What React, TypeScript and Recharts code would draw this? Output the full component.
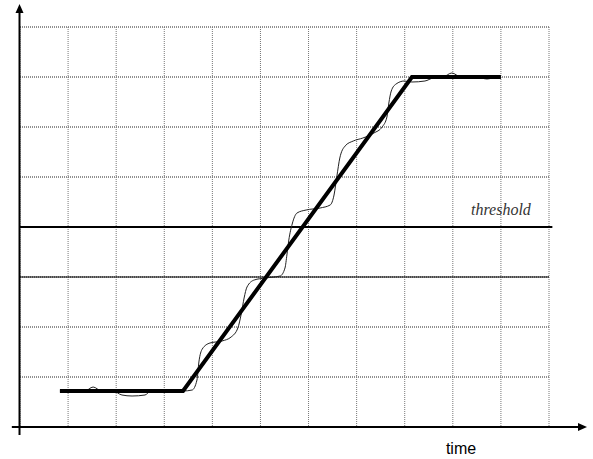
import React from "react"
import {
  LineChart,
  Line,
  XAxis,
  YAxis,
  CartesianGrid,
  ReferenceLine,
  ReferenceDot,
} from "recharts"

// grid divisions (time units / level units)
const X_TICKS = [0, 1, 2, 3, 4, 5, 6, 7, 8, 9, 10, 11]
const Y_TICKS = [0, 1, 2, 3, 4, 5, 6, 7, 8]

// ideal ramp (thick)
const RAMP_T = [0.83, 3.39, 8.15, 10.0]
const RAMP_V = [0.72, 0.72, 7.0, 7.0]

// ringing signal (thin)
const SIG_T = [
  0.83, 1.35, 1.52, 1.7, 1.93, 2.12, 2.33, 2.6, 2.72, 3.39,
  3.58, 3.68, 3.72, 3.79, 3.95, 4.2, 4.39, 4.53, 4.6, 4.66,
  4.72, 4.87, 5.1, 5.41, 5.51, 5.55, 5.59, 5.66, 5.76, 5.95,
  6.24, 6.45, 6.53, 6.59, 6.65, 6.76, 6.93, 7.13, 7.36, 7.53,
  7.63, 7.67, 7.72, 7.82, 7.99, 8.15, 8.42, 8.59, 8.8, 8.98,
  9.17, 9.5, 9.71, 9.92, 10.0,
]
const SIG_V = [
  0.72, 0.72, 0.8, 0.72, 0.72, 0.64, 0.62, 0.64, 0.72, 0.72,
  0.74, 0.94, 1.3, 1.56, 1.68, 1.72, 1.8, 1.98, 2.26, 2.58,
  2.8, 2.94, 2.98, 3.02, 3.18, 3.44, 3.74, 4.06, 4.28, 4.34,
  4.38, 4.44, 4.64, 5.02, 5.38, 5.62, 5.72, 5.78, 5.88, 6.0,
  6.2, 6.48, 6.72, 6.86, 6.92, 6.9, 6.92, 6.98, 7.0, 7.08,
  7.0, 7.0, 6.96, 7.0, 7.0,
]

const THRESHOLD = 4

const ramp = RAMP_T.map((t, i) => ({ t, v: RAMP_V[i] }))
const signal = SIG_T.map((t, i) => ({ t, v: SIG_V[i] }))

// axis line with a filled arrow head at (x2, y2)
function ArrowLine(props: any) {
  const { x1, y1, x2, y2 } = props
  const dx = x2 - x1
  const dy = y2 - y1
  const len = Math.sqrt(dx * dx + dy * dy) || 1
  const ux = dx / len
  const uy = dy / len
  const bx = x2 - ux * 9
  const by = y2 - uy * 9
  const pts = `${x2},${y2} ${bx - uy * 4},${by + ux * 4} ${bx + uy * 4},${by - ux * 4}`
  return (
    <g>
      <line x1={x1} y1={y1} x2={bx} y2={by} stroke="#000" strokeWidth={2} />
      <polygon points={pts} fill="#000" />
    </g>
  )
}

export default function App() {
  return (
    <div style={{ position: "fixed", left: 0, top: 0, width: 593, height: 459, background: "#fff" }}>
      <LineChart width={593} height={459} margin={{ top: 27, right: 44, bottom: 32, left: 20 }}>
        <XAxis hide type="number" dataKey="t" domain={[0, 11]} ticks={X_TICKS} allowDataOverflow />
        <YAxis hide type="number" domain={[0, 8]} ticks={Y_TICKS} allowDataOverflow />
        <CartesianGrid vertical={false} stroke="#222" strokeDasharray="1 1" />
        <CartesianGrid horizontal={false} stroke="#777" strokeDasharray="1 1" />
        <ReferenceLine y={3} stroke="#000" strokeWidth={1} />
        <ReferenceLine
          segment={[{ x: 0, y: THRESHOLD }, { x: 11.07, y: THRESHOLD }]}
          stroke="#000"
          strokeWidth={2}
          ifOverflow="visible"
        />
        <Line
          data={signal}
          dataKey="v"
          type="monotoneX"
          stroke="#222"
          strokeWidth={1}
          dot={false}
          isAnimationActive={false}
        />
        <Line
          data={ramp}
          dataKey="v"
          type="linear"
          stroke="#000"
          strokeWidth={4}
          dot={false}
          isAnimationActive={false}
        />
        <ReferenceLine
          segment={[{ x: -0.17, y: 0 }, { x: 11.79, y: 0 }]}
          ifOverflow="visible"
          shape={ArrowLine}
        />
        <ReferenceLine
          segment={[{ x: -0.01, y: -0.16 }, { x: -0.01, y: 8.46 }]}
          ifOverflow="visible"
          shape={ArrowLine}
        />
        <ReferenceDot
          x={10}
          y={4.36}
          r={0}
          fill="none"
          stroke="none"
          ifOverflow="visible"
          label={{
            value: "threshold",
            position: "center",
            fill: "#333",
            fontSize: 16,
            fontFamily: "Liberation Serif",
            fontStyle: "italic",
          }}
        />
        <ReferenceDot
          x={9.17}
          y={-0.42}
          r={0}
          fill="none"
          stroke="none"
          ifOverflow="visible"
          label={{
            value: "time",
            position: "center",
            fill: "#000",
            fontSize: 16,
            fontFamily: "Liberation Sans",
          }}
        />
      </LineChart>
    </div>
  )
}
